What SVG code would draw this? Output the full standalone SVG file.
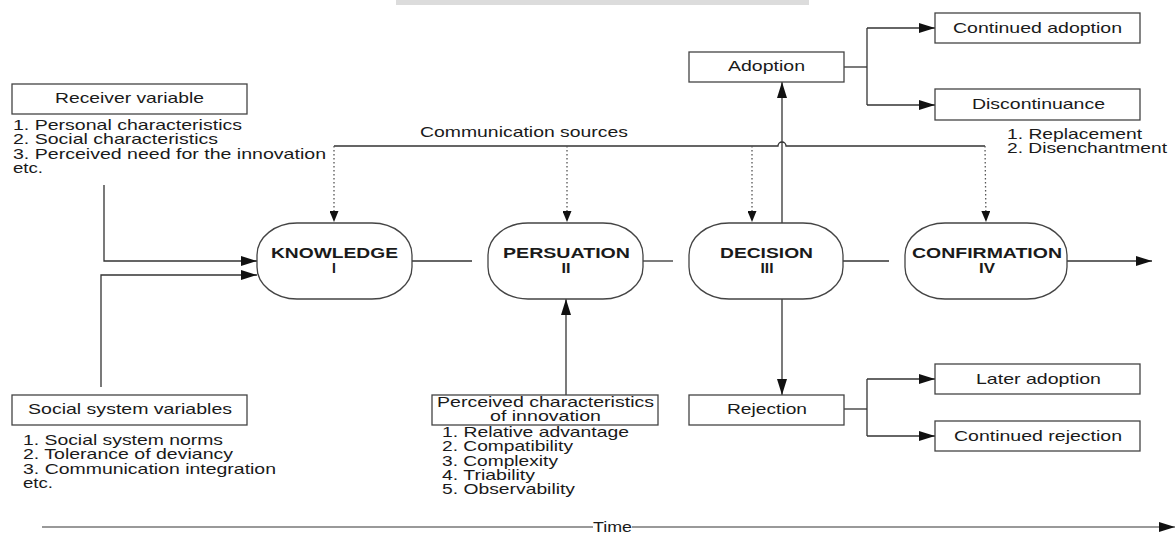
<svg xmlns="http://www.w3.org/2000/svg" width="1176" height="533" viewBox="0 0 1176 533">
<defs>
<marker id="arr" markerUnits="userSpaceOnUse" markerWidth="16" markerHeight="11" refX="16" refY="5.5" orient="auto"><path d="M0,0.5 L16,5.5 L0,10.5 z" fill="#111"/></marker>
<marker id="arrs" markerUnits="userSpaceOnUse" markerWidth="11" markerHeight="9" refX="11" refY="4.5" orient="auto"><path d="M0,0 L11,4.5 L0,9 z" fill="#111"/></marker>
<style>
text{font-family:"Liberation Sans",Arial,sans-serif;fill:#1a1a1a;font-size:14.5px}
.b{font-weight:bold;font-size:14px}
.box{fill:#fff;stroke:#444;stroke-width:1.3}
.node{fill:#fff;stroke:#444;stroke-width:1.3}
.ln{fill:none;stroke:#333;stroke-width:1.3}
.dot{fill:none;stroke:#555;stroke-width:1.3;stroke-dasharray:1.5 2.5}
.mid{text-anchor:middle}
</style>
</defs>
<rect x="396" y="0" width="413" height="5" fill="#dcdcdc"/>

<g id="connectors">
<polyline class="ln" points="104,185 104,261 257,261" marker-end="url(#arr)"/>
<polyline class="ln" points="101,387 101,275 257,275" marker-end="url(#arr)"/>
<path class="ln" d="M334,146 L778,146 A4,4 0 0 1 786,146 L985,146"/>
<line class="dot" x1="334" y1="146" x2="334" y2="222" marker-end="url(#arrs)"/>
<line class="dot" x1="567" y1="146" x2="567" y2="222" marker-end="url(#arrs)"/>
<line class="dot" x1="752" y1="146" x2="752" y2="222" marker-end="url(#arrs)"/>
<line class="dot" x1="985" y1="146" x2="986" y2="222" marker-end="url(#arrs)"/>
<line class="ln" x1="412" y1="261" x2="472" y2="261"/>
<line class="ln" x1="643" y1="261" x2="673" y2="261"/>
<line class="ln" x1="843" y1="261" x2="889" y2="261"/>
<line class="ln" x1="1067" y1="261" x2="1152" y2="261" marker-end="url(#arr)"/>
<line class="ln" x1="566" y1="395" x2="566" y2="299" marker-end="url(#arr)"/>
<line class="ln" x1="782" y1="223" x2="782" y2="82" marker-end="url(#arr)"/>
<line class="ln" x1="782" y1="299" x2="782" y2="395" marker-end="url(#arr)"/>
<polyline class="ln" points="844,67 867,67"/>
<polyline class="ln" points="867,28 867,105"/>
<line class="ln" x1="867" y1="28" x2="935" y2="28" marker-end="url(#arr)"/>
<line class="ln" x1="867" y1="105" x2="935" y2="105" marker-end="url(#arr)"/>
<polyline class="ln" points="844,409 867,409"/>
<polyline class="ln" points="867,379 867,436"/>
<line class="ln" x1="867" y1="379" x2="935" y2="379" marker-end="url(#arr)"/>
<line class="ln" x1="867" y1="436" x2="935" y2="436" marker-end="url(#arr)"/>
<line x1="42" y1="527" x2="593" y2="527" stroke="#777" stroke-width="1.4"/>
<line x1="632" y1="527" x2="1175" y2="527" stroke="#777" stroke-width="1.4" marker-end="url(#arr)"/>
</g>

<g id="receiver">
<rect class="box" x="12" y="84" width="235" height="30"/>
<text x="55" y="103" textLength="149" lengthAdjust="spacingAndGlyphs">Receiver variable</text>
<text x="13" y="130" textLength="229" lengthAdjust="spacingAndGlyphs">1. Personal characteristics</text>
<text x="13" y="144" textLength="205" lengthAdjust="spacingAndGlyphs">2. Social characteristics</text>
<text x="13" y="159" textLength="313" lengthAdjust="spacingAndGlyphs">3. Perceived need for the innovation</text>
<text x="13" y="173" textLength="30" lengthAdjust="spacingAndGlyphs">etc.</text>
</g>

<g id="social">
<rect class="box" x="12" y="395" width="235" height="30"/>
<text x="28" y="414" textLength="204" lengthAdjust="spacingAndGlyphs">Social system variables</text>
<text x="23" y="445" textLength="200" lengthAdjust="spacingAndGlyphs">1. Social system norms</text>
<text x="23" y="459" textLength="210" lengthAdjust="spacingAndGlyphs">2. Tolerance of deviancy</text>
<text x="23" y="474" textLength="253" lengthAdjust="spacingAndGlyphs">3. Communication integration</text>
<text x="23" y="488" textLength="30" lengthAdjust="spacingAndGlyphs">etc.</text>
</g>

<g id="perceived">
<rect class="box" x="432" y="395" width="226" height="30"/>
<text x="437" y="407" textLength="217" lengthAdjust="spacingAndGlyphs">Perceived characteristics</text>
<text x="490" y="421" textLength="111" lengthAdjust="spacingAndGlyphs">of innovation</text>
<text x="442" y="437" textLength="187" lengthAdjust="spacingAndGlyphs">1. Relative advantage</text>
<text x="442" y="451" textLength="131" lengthAdjust="spacingAndGlyphs">2. Compatibility</text>
<text x="442" y="466" textLength="116" lengthAdjust="spacingAndGlyphs">3. Complexity</text>
<text x="442" y="480" textLength="93" lengthAdjust="spacingAndGlyphs">4. Triability</text>
<text x="442" y="494" textLength="133" lengthAdjust="spacingAndGlyphs">5. Observability</text>
</g>

<g id="commsources">
<text x="420" y="137" textLength="208" lengthAdjust="spacingAndGlyphs">Communication sources</text>
</g>

<g id="knowledge">
<rect class="node" x="257" y="223" width="155" height="76" rx="40" ry="32"/>
<text class="b" x="271" y="258" textLength="127" lengthAdjust="spacingAndGlyphs">KNOWLEDGE</text>
<text class="b mid" x="334" y="273">I</text>
</g>
<g id="persuasion">
<rect class="node" x="488" y="223" width="155" height="76" rx="40" ry="32"/>
<text class="b" x="503" y="258" textLength="127" lengthAdjust="spacingAndGlyphs">PERSUATION</text>
<text class="b mid" x="566" y="273" textLength="9" lengthAdjust="spacingAndGlyphs">II</text>
</g>
<g id="decision">
<rect class="node" x="689" y="223" width="154" height="76" rx="40" ry="32"/>
<text class="b" x="720" y="258" textLength="93" lengthAdjust="spacingAndGlyphs">DECISION</text>
<text class="b mid" x="767" y="273" textLength="13" lengthAdjust="spacingAndGlyphs">III</text>
</g>
<g id="confirmation">
<rect class="node" x="905" y="223" width="162" height="76" rx="40" ry="32"/>
<text class="b" x="912" y="258" textLength="150" lengthAdjust="spacingAndGlyphs">CONFIRMATION</text>
<text class="b mid" x="987" y="273" textLength="16" lengthAdjust="spacingAndGlyphs">IV</text>
</g>

<g id="adoption">
<rect class="box" x="689" y="52" width="155" height="30"/>
<text x="728" y="71" textLength="77" lengthAdjust="spacingAndGlyphs">Adoption</text>
</g>
<g id="continued-adoption">
<rect class="box" x="935" y="13" width="205" height="30"/>
<text x="953" y="33" textLength="169" lengthAdjust="spacingAndGlyphs">Continued adoption</text>
</g>
<g id="discontinuance">
<rect class="box" x="935" y="89" width="205" height="31"/>
<text x="972" y="109" textLength="133" lengthAdjust="spacingAndGlyphs">Discontinuance</text>
<text x="1007" y="139" textLength="135" lengthAdjust="spacingAndGlyphs">1. Replacement</text>
<text x="1007" y="153" textLength="160" lengthAdjust="spacingAndGlyphs">2. Disenchantment</text>
</g>
<g id="rejection">
<rect class="box" x="689" y="395" width="155" height="30"/>
<text x="727" y="414" textLength="80" lengthAdjust="spacingAndGlyphs">Rejection</text>
</g>
<g id="later-adoption">
<rect class="box" x="935" y="364" width="205" height="30"/>
<text x="976" y="384" textLength="125" lengthAdjust="spacingAndGlyphs">Later adoption</text>
</g>
<g id="continued-rejection">
<rect class="box" x="935" y="421" width="205" height="30"/>
<text x="954" y="441" textLength="168" lengthAdjust="spacingAndGlyphs">Continued rejection</text>
</g>
<g id="time">
<text x="593" y="532" textLength="39" lengthAdjust="spacingAndGlyphs">Time</text>
</g>
</svg>
